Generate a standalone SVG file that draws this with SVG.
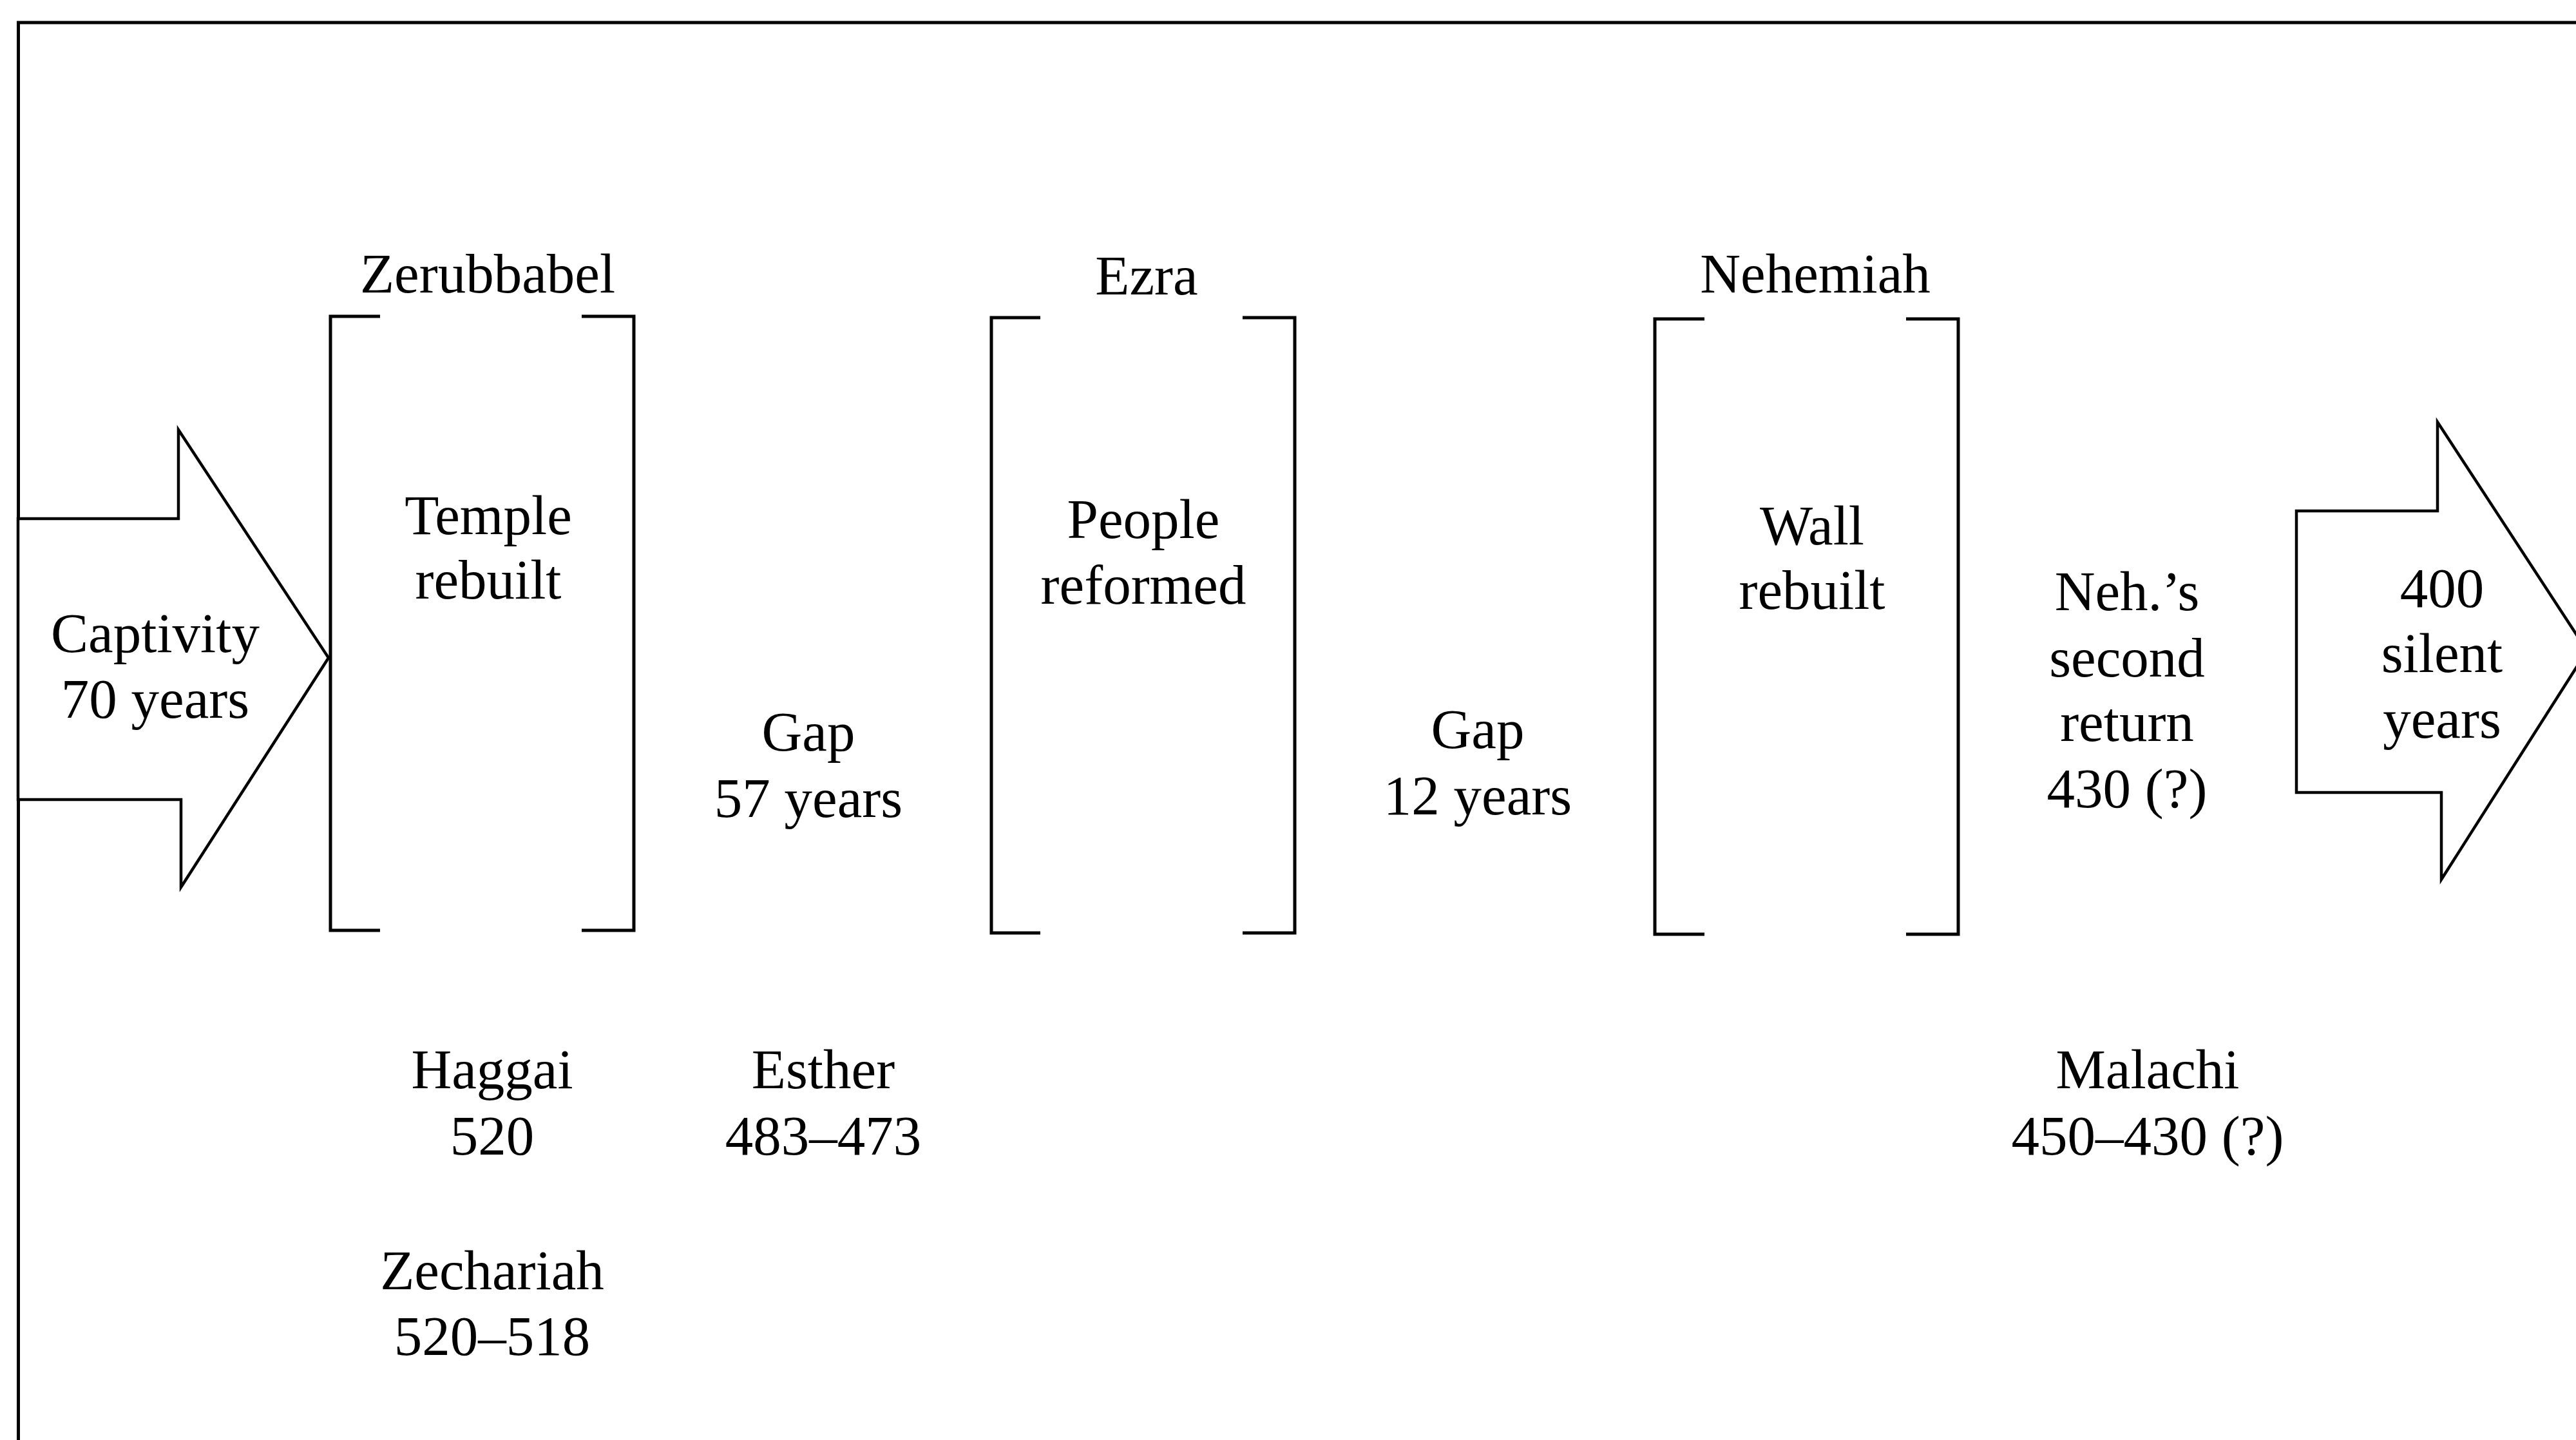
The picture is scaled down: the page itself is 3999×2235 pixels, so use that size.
<svg xmlns="http://www.w3.org/2000/svg" width="3999" height="2235" viewBox="0 0 3999 2235">
<style>
.ln{fill:none;stroke:#000;stroke-width:5;stroke-linecap:butt;stroke-linejoin:miter}
.ar{fill:#fff;stroke:#000;stroke-width:4.5;stroke-linejoin:miter}
text{font-family:"Liberation Serif","Times New Roman",serif;font-size:87px;fill:#000;text-anchor:middle}
</style>
<rect x="0" y="0" width="3999" height="2235" fill="#fff"/>
<g id="frame">
<path class="ln" d="M28.5,2300 V35 H4100"/>
</g>
<g id="connectors">
<polygon id="arrow-captivity" class="ar" points="28,805 277,805 277,667 510,1021 281,1377 281,1241 28,1241"/>
<polygon id="arrow-silent" class="ar" points="3565,793 3784,793 3784,655 4016,1010 3790,1365 3790,1230 3565,1230"/>
</g>
<g id="node-captivity">
<text x="241" y="1012">Captivity</text>
<text x="241" y="1114">70 years</text>
</g>
<g id="node-zerubbabel">
<text x="757" y="454">Zerubbabel</text>
<path class="ln" d="M590,491 H513 V1444 H590 M903,491 H984 V1444 H903"/>
<text x="758" y="829">Temple</text>
<text x="758" y="929">rebuilt</text>
</g>
<g id="node-gap57">
<text x="1255" y="1165">Gap</text>
<text x="1255" y="1268">57 years</text>
</g>
<g id="node-ezra">
<text x="1780" y="457">Ezra</text>
<path class="ln" d="M1615,493 H1539 V1448 H1615 M1929,493 H2010 V1448 H1929"/>
<text x="1775" y="835">People</text>
<text x="1775" y="937">reformed</text>
</g>
<g id="node-gap12">
<text x="2294" y="1161">Gap</text>
<text x="2294" y="1264">12 years</text>
</g>
<g id="node-nehemiah">
<text x="2818" y="454">Nehemiah</text>
<path class="ln" d="M2646,495 H2569 V1450 H2646 M2959,495 H3040 V1450 H2959"/>
<text x="2813" y="845">Wall</text>
<text x="2813" y="945">rebuilt</text>
</g>
<g id="node-second-return">
<text x="3302" y="947">Neh.’s</text>
<text x="3302" y="1050">second</text>
<text x="3302" y="1150">return</text>
<text x="3302" y="1253">430 (?)</text>
</g>
<g id="node-silent">
<text x="3791" y="942">400</text>
<text x="3791" y="1043">silent</text>
<text x="3791" y="1145">years</text>
</g>
<g id="node-haggai">
<text x="764" y="1689">Haggai</text>
<text x="764" y="1792">520</text>
</g>
<g id="node-esther">
<text x="1278" y="1689">Esther</text>
<text x="1278" y="1792">483–473</text>
</g>
<g id="node-zechariah">
<text x="764" y="2001">Zechariah</text>
<text x="764" y="2103">520–518</text>
</g>
<g id="node-malachi">
<text x="3334" y="1689">Malachi</text>
<text x="3334" y="1792">450–430 (?)</text>
</g>
</svg>
